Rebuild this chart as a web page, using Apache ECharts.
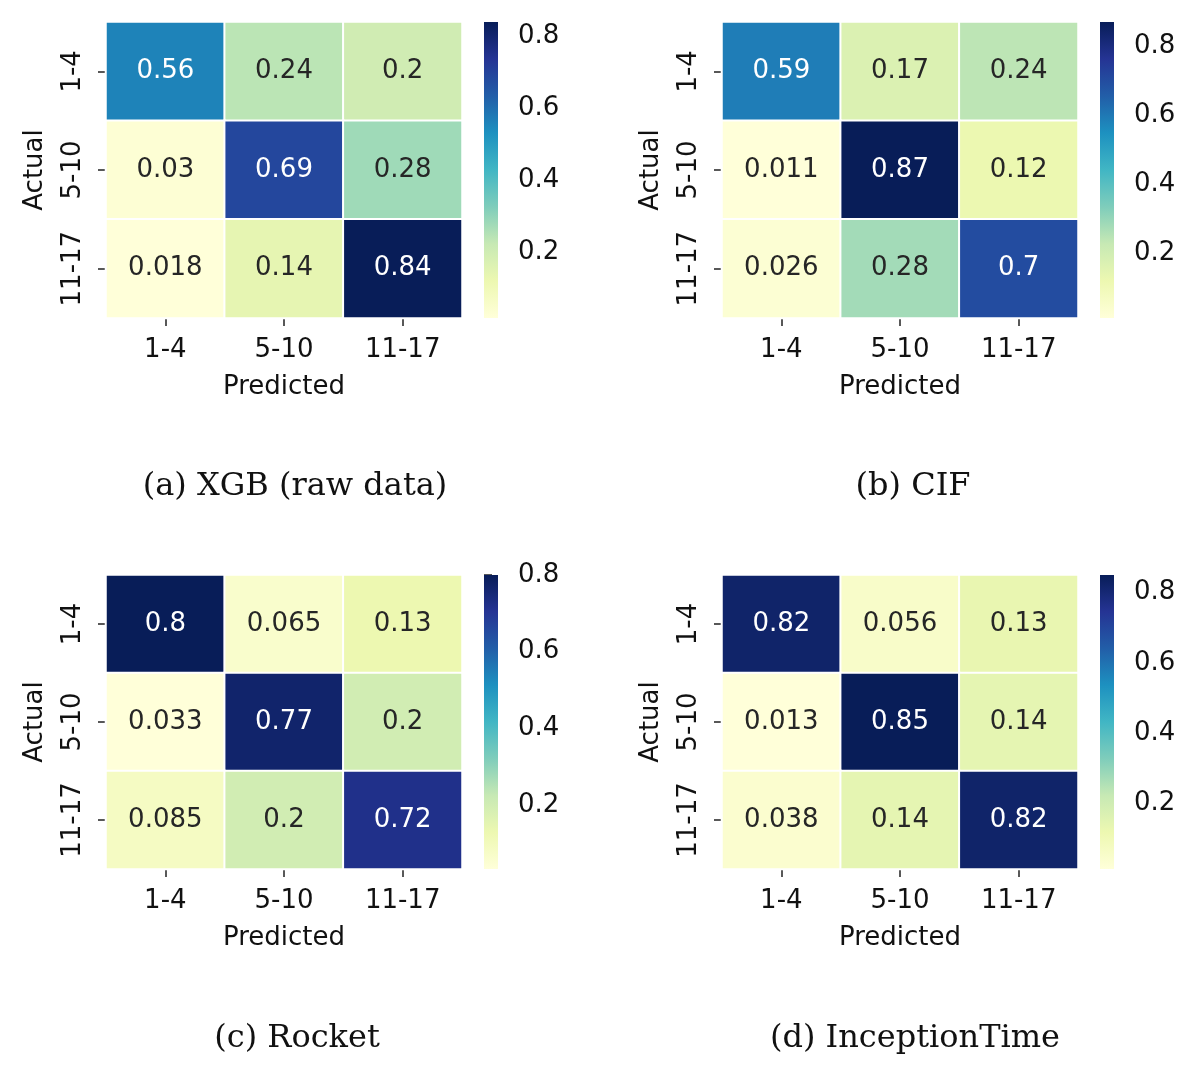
<!DOCTYPE html>
<html lang="en">
<head>
    <meta charset="utf-8">
    <title>Confusion matrices</title>
    <script src="https://cdn.jsdelivr.net/npm/echarts@6/dist/echarts.min.js"></script>
    <style>
        html, body { margin: 0; padding: 0; background: #fff; }
        #main { width: 1200px; height: 1077px; }
    </style>
</head>
<body>
<div id="main"></div>
<script type="application/javascript">
    // class labels (same for both axes)
    var classes = ['1-4', '5-10', '11-17'];

    // rows = actual, columns = predicted
    var xgbValues = [[0.56, 0.24, 0.2], [0.03, 0.69, 0.28], [0.018, 0.14, 0.84]];
    var cifValues = [[0.59, 0.17, 0.24], [0.011, 0.87, 0.12], [0.026, 0.28, 0.7]];
    var rocketValues = [[0.8, 0.065, 0.13], [0.033, 0.77, 0.2], [0.085, 0.2, 0.72]];
    var inceptionValues = [[0.82, 0.056, 0.13], [0.013, 0.85, 0.14], [0.038, 0.14, 0.82]];

    var captions = ['(a) XGB (raw data)', '(b) CIF', '(c) Rocket', '(d) InceptionTime'];
    var colorbarTicks = [0.2, 0.4, 0.6, 0.8];

    // YlGnBu
    var ylgnbu = ['#ffffd9', '#edf8b1', '#c7e9b4', '#7fcdbb', '#41b6c4', '#1d91c0', '#225ea8', '#253494', '#081d58'];

    var panels = [
        {values: xgbValues, left: 106, top: 22, height: 296, capX: 290, capY: 466},
        {values: cifValues, left: 722, top: 22, height: 296, capX: 908, capY: 466},
        {values: rocketValues, left: 106, top: 575, height: 294, capX: 292, capY: 1018},
        {values: inceptionValues, left: 722, top: 575, height: 294, capX: 910, capY: 1018}
    ];

    var chart = echarts.init(document.getElementById('main'));
    var tickFont = 'DejaVu Sans';
    var grids = [], xAxes = [], yAxes = [], series = [], visualMaps = [], titles = [];

    var gradStops = ylgnbu.map(function (c, i) {
        return {offset: i / (ylgnbu.length - 1), color: c};
    });

    panels.forEach(function (p, k) {
        var flat = [].concat.apply([], p.values);
        var vmin = Math.min.apply(null, flat);
        var vmax = Math.max.apply(null, flat);

        // heatmap
        var hg = grids.length;
        grids.push({left: p.left, top: p.top, width: 356, height: p.height});
        xAxes.push({
            gridIndex: hg, type: 'category', data: classes,
            name: 'Predicted', nameLocation: 'middle', nameGap: 56,
            nameTextStyle: {fontFamily: tickFont, fontSize: 26, color: '#111'},
            axisLine: {show: false},
            axisTick: {show: true, alignWithLabel: true, length: 8, lineStyle: {color: '#222', width: 1.5}},
            axisLabel: {fontFamily: tickFont, fontSize: 26, color: '#111', margin: 19, interval: 0},
            splitLine: {show: false}
        });
        yAxes.push({
            gridIndex: hg, type: 'category', data: classes, inverse: true,
            name: 'Actual', nameLocation: 'middle', nameGap: 58, nameRotate: 90,
            nameTextStyle: {fontFamily: tickFont, fontSize: 26, color: '#111'},
            axisLine: {show: false},
            axisTick: {show: true, alignWithLabel: true, length: 8, lineStyle: {color: '#222', width: 1.5}},
            axisLabel: {fontFamily: tickFont, fontSize: 26, color: '#111', rotate: 90, margin: 20, interval: 0},
            splitLine: {show: false}
        });

        var cells = [];
        for (var r = 0; r < p.values.length; r++) {
            for (var c = 0; c < p.values[r].length; c++) {
                var v = p.values[r][c];
                var dark = (v - vmin) / (vmax - vmin) > 0.5;
                cells.push({value: [c, r, v], label: {color: dark ? '#ffffff' : '#262626'}});
            }
        }
        series.push({
            type: 'heatmap', xAxisIndex: hg, yAxisIndex: hg, data: cells,
            itemStyle: {borderColor: '#ffffff', borderWidth: 2},
            label: {
                show: true, fontFamily: tickFont, fontSize: 26,
                formatter: function (d) { return String(d.value[2]); }
            },
            emphasis: {disabled: true}
        });
        visualMaps.push({
            show: false, type: 'continuous', seriesIndex: series.length - 1,
            min: vmin, max: vmax, dimension: 2, inRange: {color: ylgnbu}
        });

        // colorbar
        var cb = grids.length;
        grids.push({left: p.left + 378, top: p.top, width: 14, height: p.height});
        xAxes.push({gridIndex: cb, type: 'value', min: 0, max: 1, show: false});
        yAxes.push({
            gridIndex: cb, type: 'value', position: 'right', min: vmin, max: vmax,
            axisLine: {show: false},
            splitLine: {show: false},
            axisTick: {show: true, length: 8, customValues: colorbarTicks, lineStyle: {color: '#222', width: 1.5}},
            axisLabel: {
                fontFamily: tickFont, fontSize: 26, color: '#111', margin: 20,
                customValues: colorbarTicks,
                formatter: function (v) { return v.toFixed(1); }
            }
        });
        series.push({
            type: 'custom', xAxisIndex: cb, yAxisIndex: cb,
            data: [[0, 1, vmin, vmax]],
            encode: {x: [0, 1], y: [2, 3]},
            renderItem: function (params, api) {
                var a = api.coord([api.value(0), api.value(2)]);
                var b = api.coord([api.value(1), api.value(3)]);
                return {
                    type: 'rect',
                    shape: {x: a[0], y: b[1], width: b[0] - a[0], height: a[1] - b[1]},
                    style: {fill: new echarts.graphic.LinearGradient(0, 1, 0, 0, gradStops)}
                };
            },
            silent: true
        });

        titles.push({
            text: captions[k], left: p.capX, top: p.capY, textAlign: 'center',
            textStyle: {fontFamily: 'DejaVu Serif', fontSize: 32, fontWeight: 'normal', color: '#111'}
        });
    });

    chart.setOption({
        animation: false,
        backgroundColor: '#ffffff',
        title: titles,
        grid: grids,
        xAxis: xAxes,
        yAxis: yAxes,
        visualMap: visualMaps,
        series: series
    });
</script>
</body>
</html>
